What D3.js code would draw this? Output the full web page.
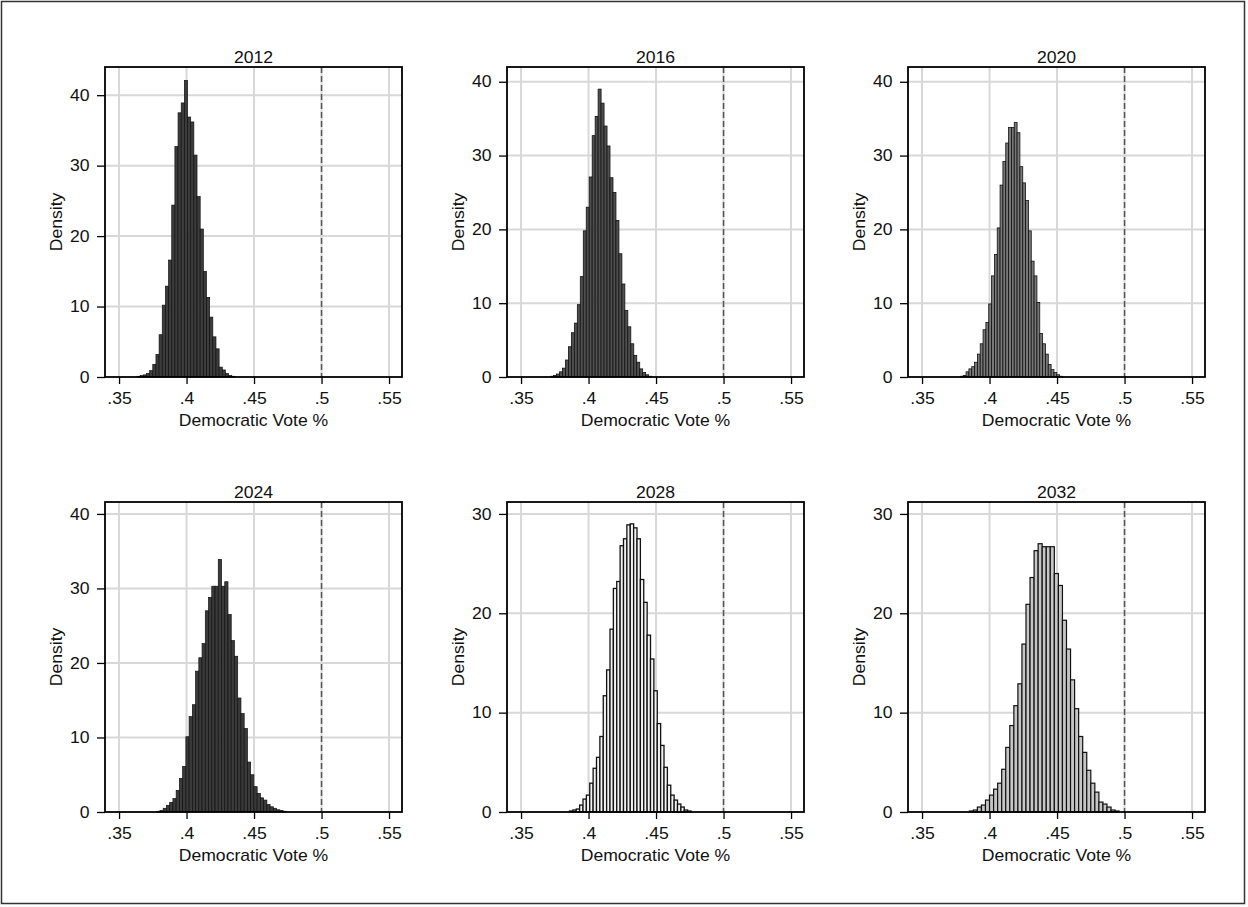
<!DOCTYPE html>
<html>
<head>
<meta charset="utf-8">
<script src="https://cdn.jsdelivr.net/npm/d3@7"></script>
<style>
body { margin: 0; background: #fff; }
svg { display: block; font-family: "Liberation Sans", Arial, sans-serif; }
</style>
</head>
<body>
<div id="chart"></div>
<script>
// panel titles
const years = ['2012', '2016', '2020', '2024', '2028', '2032'];

// histogram bins: left edge of first bin and bin width per panel
const binStart = [0.3633, 0.3719, 0.3784, 0.3779, 0.3859, 0.3850];
const binWidth = [0.00234, 0.0022, 0.0021, 0.0024, 0.0025, 0.003];

// densities, left to right
const dens2012 = [0.1, 0.2, 0.3, 0.5, 0.9, 1.8, 3.2, 6.0, 10.2, 12.9, 16.6, 24.4, 32.7, 37.5, 38.9, 42.1,
    36.9, 36.2, 31.5, 25.6, 21.0, 15.0, 11.3, 8.5, 5.7, 4.0, 1.4, 1.0, 0.5, 0.2, 0.1];
const dens2016 = [0.1, 0.2, 0.4, 0.7, 1.2, 2.3, 4.1, 6.0, 7.3, 9.8, 13.6, 19.8, 23.0, 27.1, 32.7, 35.3, 39.0,
    37.1, 34.0, 31.3, 27.0, 25.0, 21.2, 16.7, 12.6, 9.0, 6.8, 4.5, 2.9, 2.0, 1.1, 0.6, 0.3, 0.1];
const dens2020 = [0.1, 0.2, 0.7, 1.1, 1.4, 2.0, 3.1, 4.5, 6.4, 7.4, 9.9, 13.7, 16.6, 20.2, 26.0, 29.2, 31.7,
    33.8, 33.8, 34.5, 33.1, 28.5, 26.3, 23.9, 19.8, 15.7, 13.7, 10.1, 5.9, 4.5, 3.1, 1.7, 1.0, 0.6, 0.3, 0.1];
const dens2024 = [0.1, 0.2, 0.5, 0.9, 1.3, 1.8, 2.9, 4.5, 6.1, 10.1, 12.8, 14.4, 18.9, 20.7, 22.6, 27.0, 28.8,
    30.3, 30.3, 33.9, 30.3, 30.9, 26.5, 23.0, 20.9, 15.3, 13.2, 11.2, 6.7, 5.0, 3.4, 2.5, 1.9, 1.6, 1.0, 0.7,
    0.5, 0.3, 0.2, 0.1];
const dens2028 = [0.1, 0.2, 0.3, 0.7, 1.3, 1.7, 2.9, 4.4, 5.5, 7.6, 11.7, 14.3, 18.4, 22.5, 23.2, 26.8, 27.5,
    28.9, 29.0, 28.6, 27.5, 23.4, 21.1, 17.8, 15.4, 12.2, 8.9, 6.7, 4.5, 2.7, 1.7, 1.2, 0.8, 0.5, 0.2, 0.1];
const dens2032 = [0.1, 0.2, 0.5, 0.7, 1.2, 1.7, 2.3, 2.9, 4.3, 6.5, 8.7, 10.7, 12.9, 16.9, 20.9, 23.6, 26.3,
    27.0, 26.7, 26.7, 26.7, 24.0, 22.8, 19.3, 16.4, 13.3, 10.4, 7.6, 6.0, 4.2, 2.9, 2.0, 1.0, 0.8, 0.5, 0.2, 0.1];
const densities = [dens2012, dens2016, dens2020, dens2024, dens2028, dens2032];

// axes
const xDomain = [0.3396, 0.5596];
const xTicks = [0.35, 0.4, 0.45, 0.5, 0.55];
const yMax = [44, 42, 42, 41.6, 31.2, 31.2];
const yTicksHi = [0, 10, 20, 30, 40];
const yTicksLo = [0, 10, 20, 30];
const yTicks = [yTicksHi, yTicksHi, yTicksHi, yTicksHi, yTicksLo, yTicksLo];
const cutoff = 0.5;

// styling
const fills = ['#3c3c3c', '#505050', '#777777', '#3a3a3a', '#f2f2f2', '#c6c6c6'];
const strokeW = [0.7, 0.8, 0.8, 0.7, 1.3, 1.2];

const W = 1248, H = 907;
const colLeft = [105, 507, 908];
const rowTop = [67, 502];
const pw = 297, ph = 310;
const sx = 1.1; // the reference text looks slightly stretched

const svg = d3.select('#chart').append('svg')
    .attr('width', W)
    .attr('height', H);

svg.append('rect')
    .attr('x', 1.5).attr('y', 1.5)
    .attr('width', 1243).attr('height', 902)
    .attr('fill', '#fff')
    .attr('stroke', '#333')
    .attr('stroke-width', 1.5);

const fmt = d => d3.format('.2~f')(d).replace(/^0/, '');

years.forEach((yr, k) => {
    const left = colLeft[k % 3];
    const top = rowTop[Math.floor(k / 3)];
    const g = svg.append('g').attr('transform', `translate(${left},${top})`);

    const x = d3.scaleLinear().domain(xDomain).range([0, pw]);
    const y = d3.scaleLinear().domain([0, yMax[k]]).range([ph, 0]);

    // grid
    g.selectAll('.vg').data(xTicks).enter().append('line')
        .attr('x1', d => x(d)).attr('x2', d => x(d))
        .attr('y1', 0).attr('y2', ph)
        .attr('stroke', '#d8d8d8').attr('stroke-width', 2);
    g.selectAll('.hg').data(yTicks[k].filter(d => d > 0)).enter().append('line')
        .attr('x1', 0).attr('x2', pw)
        .attr('y1', d => y(d)).attr('y2', d => y(d))
        .attr('stroke', '#d8d8d8').attr('stroke-width', 2);

    // bars
    const bins = densities[k].map((d, i) => ({
        x0: binStart[k] + i * binWidth[k],
        x1: binStart[k] + (i + 1) * binWidth[k],
        v: d
    }));
    g.selectAll('.bar').data(bins).enter().append('rect')
        .attr('x', d => x(d.x0))
        .attr('width', d => x(d.x1) - x(d.x0))
        .attr('y', d => y(d.v))
        .attr('height', d => y(0) - y(d.v))
        .attr('fill', fills[k])
        .attr('stroke', '#111')
        .attr('stroke-width', strokeW[k]);

    // cutoff line
    g.append('line')
        .attr('x1', x(cutoff)).attr('x2', x(cutoff))
        .attr('y1', 0).attr('y2', ph)
        .attr('stroke', '#555')
        .attr('stroke-width', 1.5)
        .attr('stroke-dasharray', '6,3');

    // axes
    const ax = g.append('g')
        .attr('transform', `translate(0,${ph})`)
        .call(d3.axisBottom(x).tickValues(xTicks).tickFormat(fmt).tickSize(7).tickPadding(9));
    const ay = g.append('g')
        .call(d3.axisLeft(y).tickValues(yTicks[k]).tickSize(8).tickPadding(6));
    [ax, ay].forEach(a => {
        a.select('.domain').remove();
        a.selectAll('line').attr('stroke', '#000').attr('stroke-width', 1.3);
        a.selectAll('text')
            .attr('font-size', 16)
            .attr('fill', '#111')
            .attr('font-family', '"Liberation Sans", Arial, sans-serif')
            .attr('transform', `scale(${sx},1)`);
    });

    // frame
    g.append('rect')
        .attr('width', pw).attr('height', ph)
        .attr('fill', 'none')
        .attr('stroke', '#000')
        .attr('stroke-width', 1.8);

    // texts
    g.append('text')
        .attr('transform', `translate(${pw / 2},-4) scale(${sx},1)`)
        .attr('text-anchor', 'middle')
        .attr('font-size', 16)
        .attr('fill', '#111')
        .text(yr);
    g.append('text')
        .attr('transform', `translate(${pw / 2},${ph + 49}) scale(${sx},1)`)
        .attr('text-anchor', 'middle')
        .attr('font-size', 16)
        .attr('fill', '#111')
        .text('Democratic Vote %');
    g.append('text')
        .attr('transform', `translate(-48,${ph / 2}) rotate(-90) scale(${sx},1)`)
        .attr('text-anchor', 'middle')
        .attr('dominant-baseline', 'central')
        .attr('font-size', 16)
        .attr('fill', '#111')
        .text('Density');
});
</script>
</body>
</html>
